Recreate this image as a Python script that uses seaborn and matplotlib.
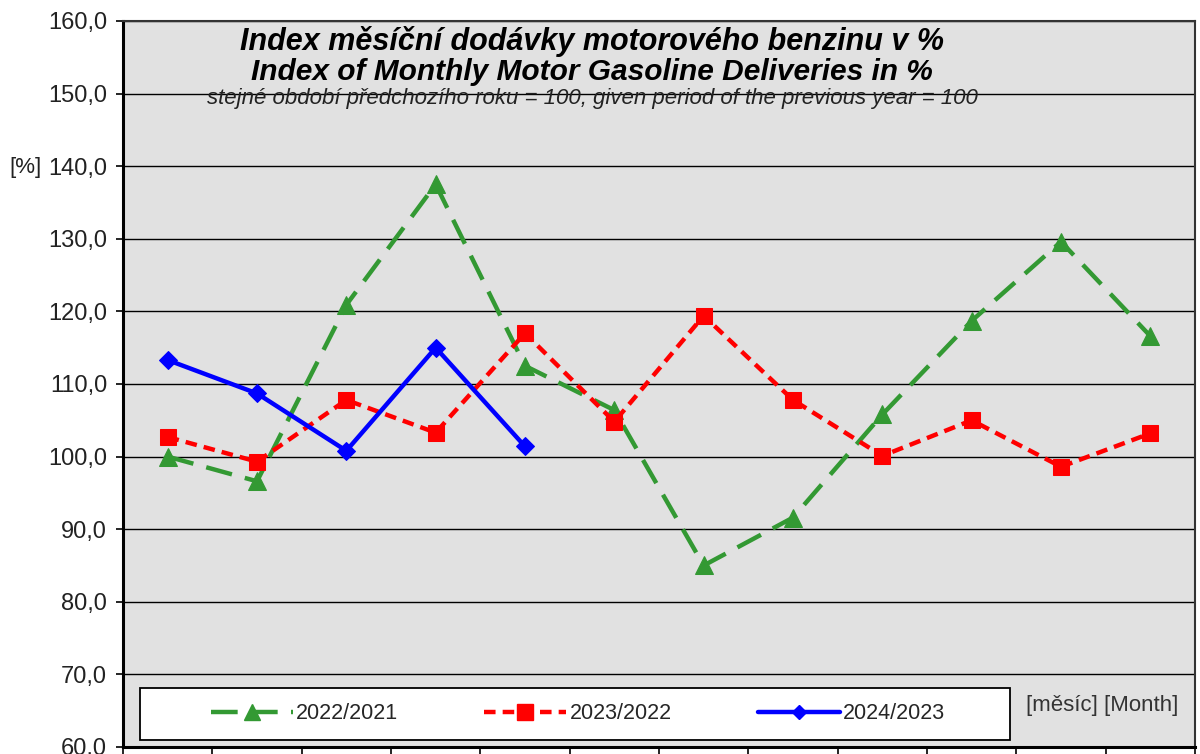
import numpy as np
import pandas as pd
import matplotlib
matplotlib.use("Agg")
import matplotlib.pyplot as plt
import seaborn as sns
from matplotlib.lines import Line2D
from matplotlib.patches import Rectangle

months = list(range(1, 13))
s2022 = [100.0, 96.6, 120.9, 137.5, 112.5, 106.4, 85.0, 91.6, 105.8, 118.7, 129.6, 116.6]
s2023 = [102.7, 99.3, 107.8, 103.3, 117.0, 104.8, 119.4, 107.8, 100.1, 105.0, 98.6, 103.2]
s2024 = [113.3, 108.7, 100.8, 115.0, 101.4]
labels = ["2022/2021", "2023/2022", "2024/2023"]
yticks = list(range(60, 161, 10))

sns.set_theme(style="white")
plt.rcParams['font.family'] = ['Liberation Sans', 'DejaVu Sans']

fig = plt.figure(figsize=(12, 7.54), dpi=100)
ax = fig.add_axes([123/1200, 7/754, 1072/1200, 726/754])
ax.set_facecolor("#e1e1e1")

df1 = pd.DataFrame({"m": months, "v": s2022})
df2 = pd.DataFrame({"m": months, "v": s2023})
df3 = pd.DataFrame({"m": months[:len(s2024)], "v": s2024})

green_ls = (0, (6, 3))
red_ls = (0, (2.6, 1.6))

sns.lineplot(data=df1, x="m", y="v", ax=ax, color="#339933", lw=3.2,
             marker="^", markersize=13, markeredgecolor="#339933",
             linestyle=green_ls, zorder=3)
sns.lineplot(data=df2, x="m", y="v", ax=ax, color="#ff0000", lw=3.2,
             marker="s", markersize=12, markeredgecolor="#ff0000",
             linestyle=red_ls, zorder=4)
sns.lineplot(data=df3, x="m", y="v", ax=ax, color="#0000ff", lw=3.2,
             marker="D", markersize=9, markeredgecolor="#0000ff",
             linestyle="-", zorder=5)

ax.set_xlim(0.5, 12.5)
ax.set_ylim(60, 160)
ax.set_yticks(yticks)
ax.set_yticklabels([f"{t:.1f}".replace(".", ",") for t in yticks], fontsize=17, color="#222222")
ax.yaxis.grid(True, color="black", lw=1)
ax.set_axisbelow(True)
ax.set_xticks(np.arange(0.5, 13.0, 1.0))
ax.set_xticklabels([])
ax.tick_params(axis="x", direction="out", length=10, width=1.2, color="black", bottom=True)
ax.tick_params(axis="y", direction="out", length=5, width=1.2, color="black", left=True, pad=6.5)
ax.set_xlabel("")
ax.set_ylabel("")

for side in ["left", "bottom"]:
    ax.spines[side].set_color("black")
    ax.spines[side].set_linewidth(2.2)
for side in ["top", "right"]:
    ax.spines[side].set_color("#333333")
    ax.spines[side].set_linewidth(1.5)

fig.text(9/1200, 1 - 168/754, "[%]", fontsize=16, color="#222222", va="center")

ax.text(0.4375, 0.972, "Index měsíční dodávky motorového benzinu v %", transform=ax.transAxes,
        ha="center", va="center", fontsize=22, fontweight="bold", fontstyle="italic", color="black")
ax.text(0.4375, 0.930, "Index of Monthly Motor Gasoline Deliveries in %", transform=ax.transAxes,
        ha="center", va="center", fontsize=21.5, fontweight="bold", fontstyle="italic", color="black")
ax.text(0.4375, 0.893, "stejné období předchozího roku = 100, given period of the previous year = 100",
        transform=ax.transAxes, ha="center", va="center", fontsize=16, fontstyle="italic", color="#222222")

box = Rectangle((0.0159, 0.0096), 0.8115, 0.0717, transform=ax.transAxes,
                facecolor="white", edgecolor="black", lw=1.3, zorder=6)
ax.add_patch(box)

handles = [
    Line2D([], [], color="#339933", lw=3.2, linestyle=green_ls, marker="^", markersize=12),
    Line2D([], [], color="#ff0000", lw=3.2, linestyle=red_ls, marker="s", markersize=12),
    Line2D([], [], color="#0000ff", lw=3.2, linestyle="-", marker="D", markersize=7),
]
leg = ax.legend(handles, labels, ncol=3, loc="center", bbox_to_anchor=(0.4245, 0.0455),
                frameon=False, fontsize=15.5, handlelength=3.8, handletextpad=0.15,
                columnspacing=4.0, borderaxespad=0)
leg.set_zorder(7)

ax.text(0.913, 0.0565, "[měsíc] [Month]", transform=ax.transAxes, ha="center", va="center",
        fontsize=16, color="#333333")

fig.savefig("out.png", dpi=100, facecolor="white")
